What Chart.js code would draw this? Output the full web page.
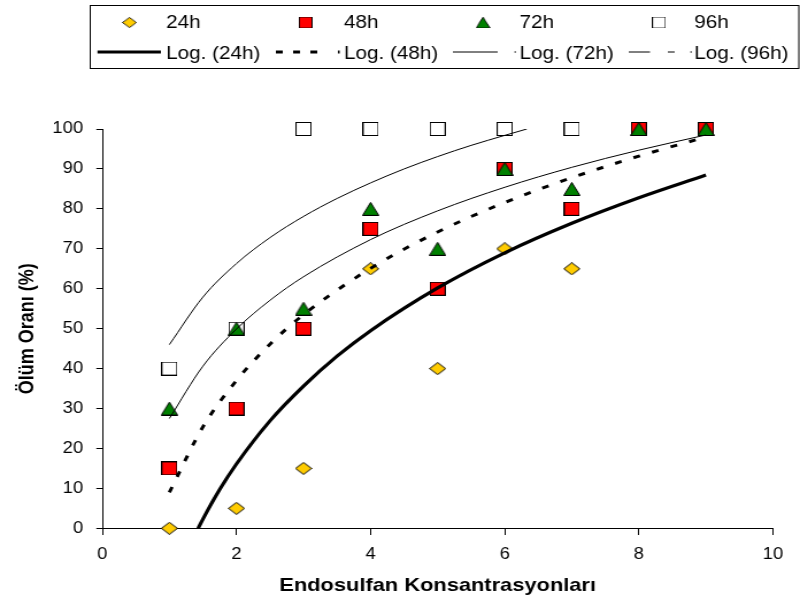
<!DOCTYPE html>
<html>
<head>
<meta charset="utf-8">
<script src="https://cdn.jsdelivr.net/npm/chart.js@4.4.1/dist/chart.umd.min.js"></script>
<style>
  html, body { margin: 0; padding: 0; background: #fff; overflow: hidden; }
</style>
</head>
<body>
<canvas id="grafik" width="696" height="602" style="display:block;width:800px;height:602px"></canvas>
<script>
const konsantrasyon = [1, 2, 3, 4, 5, 6, 7, 8, 9];
const olum24 = [0, 5, 15, 65, 40, 70, 65];
const olum48 = [15, 30, 50, 75, 60, 90, 80, 100, 100];
const olum72 = [30, 50, 55, 80, 70, 90, 85, 100, 100];
const olum96 = [40, 50, 100, 100, 100, 100, 100, 100, 100];

// trend egrileri (resimden okunan noktalar)
const trendX24 = [1.43, 1.5, 1.75, 2, 2.5, 3, 3.5, 4, 5, 6, 7, 8, 9];
const trend24 = [0, 2.3, 9.7, 16.1, 26.9, 35.6, 43.1, 49.5, 60.2, 69, 76.4, 82.8, 88.5];
const trendX48 = [1, 1.5, 2, 2.5, 3, 4, 5, 6, 7, 8, 9];
const trend48 = [9, 25.4, 37, 46.1, 53.5, 65.1, 74.2, 81.6, 87.8, 93.2, 98];
const trendX72 = [1, 1.5, 2, 2.5, 3, 4, 5, 6, 7, 8, 9];
const trend72 = [27.5, 40.6, 49.9, 57.1, 63, 72.3, 79.5, 85.4, 90.4, 94.7, 98.5];
const trendX96 = [1, 1.5, 2, 2.5, 3, 3.5, 4, 4.5, 5, 5.5, 6, 6.33];
const trend96 = [46, 57.9, 66.3, 72.8, 78.1, 82.6, 86.5, 90, 93.1, 95.9, 98.4, 100];

const seriler = ['24h', '48h', '72h', '96h'];
const trendAdlari = ['Log. (24h)', 'Log. (48h)', 'Log. (72h)', 'Log. (96h)'];

const yazi = "'Liberation Sans', Arial, sans-serif";

function nokta(xs, ys) {
  return ys.map((y, i) => ({ x: xs[i], y: y }));
}

function isaret(w, h, ciz) {
  const c = document.createElement('canvas');
  c.width = w;
  c.height = h;
  const g = c.getContext('2d');
  g.lineWidth = 1;
  g.strokeStyle = '#000';
  ciz(g);
  return c;
}

const elmas = isaret(15, 13, g => {
  g.beginPath();
  g.moveTo(7.5, 0.5); g.lineTo(14.5, 6.5); g.lineTo(7.5, 12.5); g.lineTo(0.5, 6.5);
  g.closePath();
  g.fillStyle = '#ffcc00'; g.fill(); g.stroke();
});
const kirmiziKare = isaret(14, 14, g => {
  g.fillStyle = '#ff0000';
  g.fillRect(0.5, 0.5, 13, 13);
  g.strokeRect(0.5, 0.5, 13, 13);
});
const ucgen = isaret(15, 14, g => {
  g.beginPath();
  g.moveTo(7.5, 0.5); g.lineTo(14.5, 13.5); g.lineTo(0.5, 13.5);
  g.closePath();
  g.fillStyle = '#008000'; g.fill(); g.stroke();
});
const bosKare = isaret(14, 14, g => {
  g.strokeRect(0.5, 0.5, 13, 13);
});

const isaretler = [elmas, kirmiziKare, ucgen, bosKare];

// legend elle ciziliyor
const gostergePlugin = {
  id: 'gosterge',
  afterDraw(chart) {
    const ctx = chart.ctx;
    ctx.save();
    ctx.strokeStyle = '#000';
    ctx.lineWidth = 1;
    ctx.strokeRect(78.5, 5.5, 616.5, 63);

    ctx.fillStyle = '#000';
    ctx.font = '18px ' + yazi;
    ctx.textBaseline = 'alphabetic';
    const markerX = [112.6, 265.9, 420.2, 573.3];
    const textX = [144.4, 299.3, 452, 604];
    seriler.forEach((ad, i) => {
      const m = isaretler[i];
      const w = m.width * 0.85, h = m.height * 0.85;
      ctx.drawImage(m, markerX[i] - w / 2, 22.5 - h / 2, w, h);
      ctx.fillText(ad, textX[i], 28);
      ctx.fillText(trendAdlari[i], textX[i], 59);
    });

    const parca = (x1, x2, lw) => {
      ctx.lineWidth = lw;
      ctx.beginPath();
      ctx.moveTo(x1, 52);
      ctx.lineTo(x2, 52);
      ctx.stroke();
    };
    parca(84.8, 140, 3);
    [240, 255, 270].forEach(x => parca(x, x + 6, 3));
    parca(294, 295.5, 3);
    parca(394, 433, 1);
    parca(447.5, 449, 1);
    parca(547, 565.5, 1);
    parca(581, 587, 1);
    parca(600.5, 602, 1);
    ctx.restore();
  }
};

const trendOrtak = {
  type: 'scatter',
  showLine: true,
  pointRadius: 0,
  borderColor: '#000',
  cubicInterpolationMode: 'monotone',
  order: 0
};

new Chart(document.getElementById('grafik'), {
  type: 'scatter',
  data: {
    datasets: [
      { label: '24h', data: nokta(konsantrasyon, olum24), pointStyle: elmas, pointRadius: 7, order: 3, clip: false },
      { label: '48h', data: nokta(konsantrasyon, olum48), pointStyle: kirmiziKare, pointRadius: 7, order: 2, clip: false },
      { label: '72h', data: nokta(konsantrasyon, olum72), pointStyle: ucgen, pointRadius: 7, order: 1, clip: false },
      { label: '96h', data: nokta(konsantrasyon, olum96), pointStyle: bosKare, pointRadius: 7, order: 4, clip: false },
      { ...trendOrtak, label: 'Log. (24h)', data: nokta(trendX24, trend24), borderWidth: 3.2 },
      { ...trendOrtak, label: 'Log. (48h)', data: nokta(trendX48, trend48), borderWidth: 3, borderDash: [6, 11] },
      { ...trendOrtak, label: 'Log. (72h)', data: nokta(trendX72, trend72), borderWidth: 1 },
      { ...trendOrtak, label: 'Log. (96h)', data: nokta(trendX96, trend96), borderWidth: 1 }
    ]
  },
  options: {
    responsive: false,
    animation: false,
    devicePixelRatio: 1,
    layout: { padding: { top: 129, right: 23.5, bottom: 0, left: 0 } },
    plugins: {
      legend: { display: false },
      tooltip: { enabled: false }
    },
    scales: {
      x: {
        type: 'linear',
        min: 0,
        max: 10,
        afterFit: s => { s.height = 73.7; },
        ticks: { stepSize: 2, color: '#000', padding: 9.6, font: { family: yazi, size: 16 } },
        grid: { drawOnChartArea: false, drawTicks: true, tickLength: 6.7, color: '#000' },
        border: { display: true, color: '#000', width: 1 },
        title: {
          display: true,
          text: 'Endosulfan Konsantrasyonları',
          color: '#000',
          padding: { top: 0, bottom: 5 },
          font: { family: yazi, size: 19, weight: 'bold' }
        }
      },
      y: {
        min: 0,
        max: 100,
        afterFit: s => { s.width = 89; },
        ticks: { stepSize: 10, color: '#000', padding: 11.5, font: { family: yazi, size: 16 } },
        grid: { drawOnChartArea: false, drawTicks: true, tickLength: 5.2, color: '#000' },
        border: { display: true, color: '#000', width: 1 },
        title: {
          display: true,
          text: 'Ölüm Oranı (%)',
          color: '#000',
          padding: { top: 13, bottom: 0 },
          font: { family: yazi, size: 18, weight: 'bold' }
        }
      }
    }
  },
  plugins: [gostergePlugin]
});
</script>
</body>
</html>
